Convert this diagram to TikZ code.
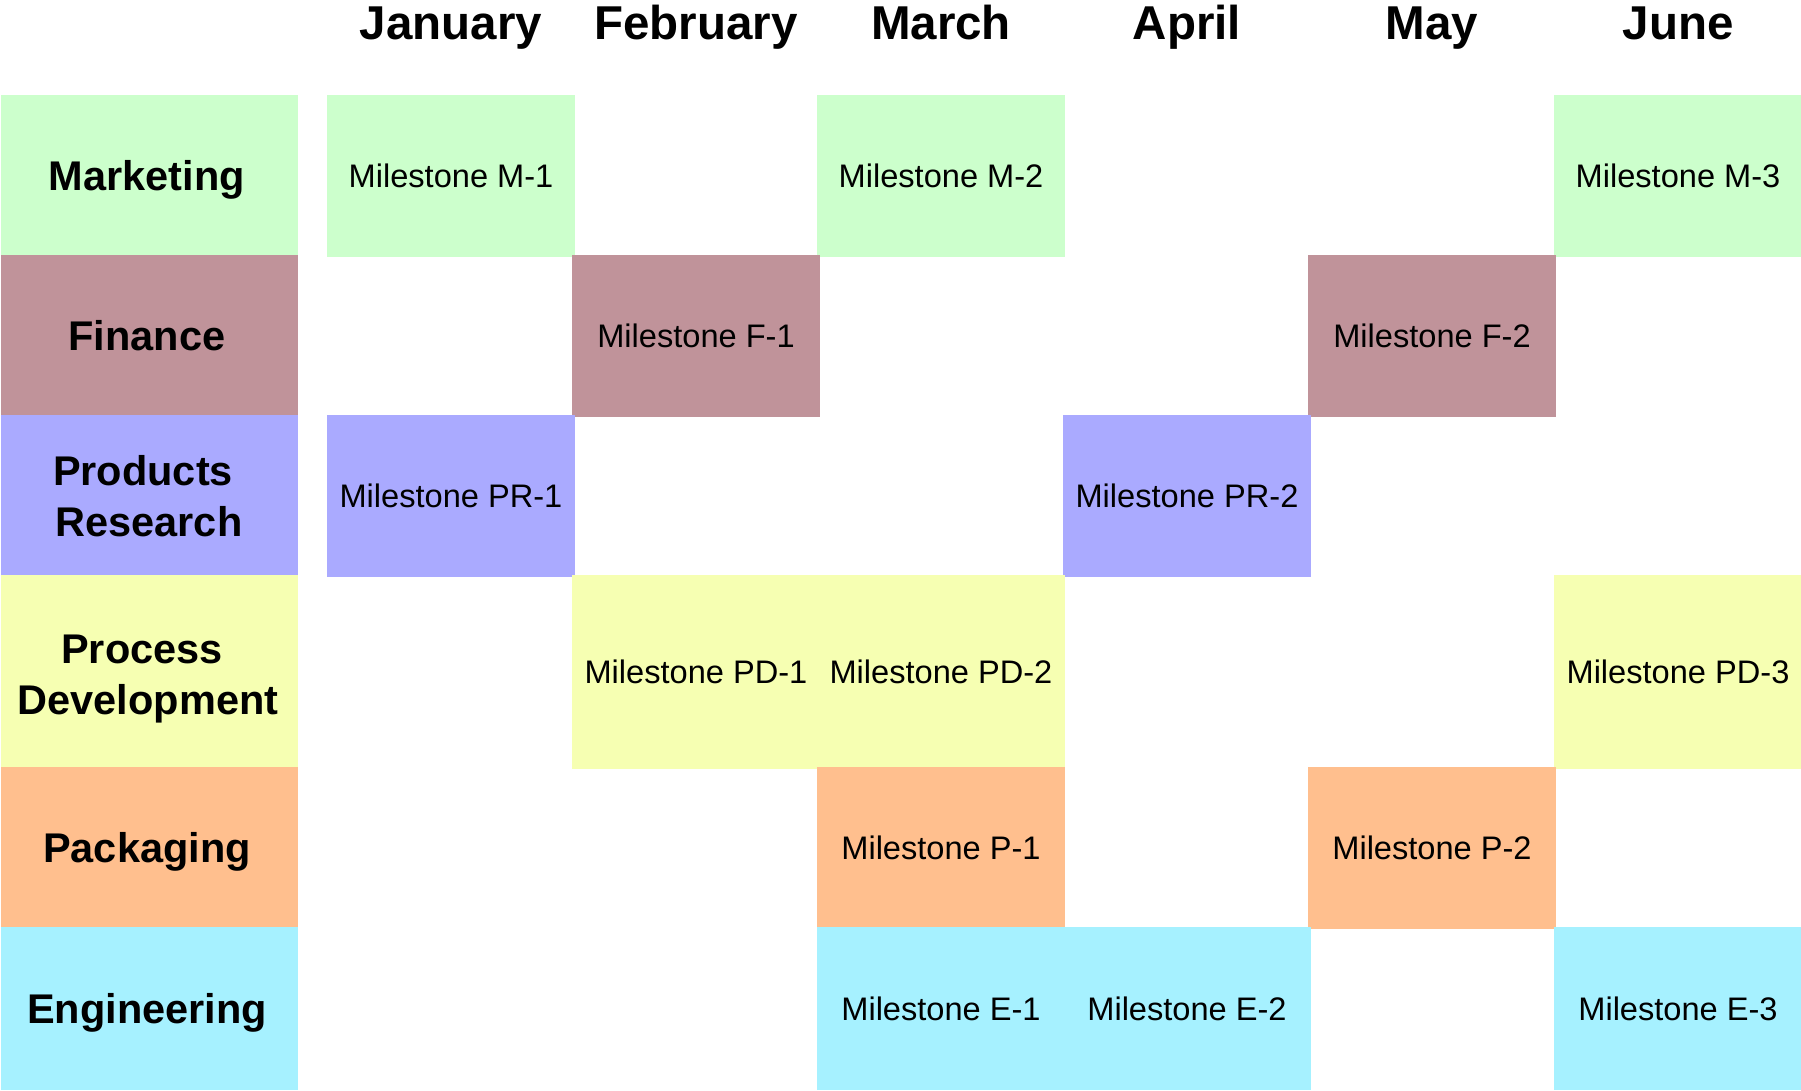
\documentclass[tikz,border=0pt]{standalone}
\usepackage{fontspec}
\setmainfont{Liberation Sans}
\definecolor{cMkt}{HTML}{CCFFCC}
\definecolor{cFin}{HTML}{C0939A}
\definecolor{cRes}{HTML}{AAAAFF}
\definecolor{cDev}{HTML}{F6FFB2}
\definecolor{cPkg}{HTML}{FFBF8E}
\definecolor{cEng}{HTML}{A6F1FF}
\tikzset{
  month/.style={anchor=base, inner sep=0pt, font=\fontsize{47.5}{57}\selectfont\bfseries},
  deptbox/.style={anchor=north west, inner sep=0pt, outer sep=0pt, minimum width=297pt},
  dept/.style={anchor=base, inner sep=0pt,
    font=\fontsize{41.5}{51}\selectfont\bfseries},
  ms/.style={anchor=north west, inner sep=0pt, outer sep=0pt, minimum width=248pt,
    font=\fontsize{32.6}{40}\selectfont, text height=23.4pt, text depth=0pt},
}
\begin{document}
\begin{tikzpicture}[x=1pt, y=-1pt]
\useasboundingbox[fill=white] (0,0) rectangle (1801,1090);

% month headings
\node[month] (hJan) at (451,39) {January};
\node[month] (hFeb) at (696,39) {February};
\node[month] (hMar) at (941,39) {March};
\node[month] (hApr) at (1187,39) {April};
\node[month] (hMay) at (1432,39) {May};
\node[month] (hJun) at (1678,39) {June};

% department column: coloured bands
\node[deptbox, fill=cMkt, minimum height=160pt] (dMkt) at (1,95) {};
\node[deptbox, fill=cFin, minimum height=160pt] (dFin) at (1,255) {};
\node[deptbox, fill=cRes, minimum height=160pt] (dRes) at (1,415) {};
\node[deptbox, fill=cDev, minimum height=192pt] (dDev) at (1,575) {};
\node[deptbox, fill=cPkg, minimum height=160pt] (dPkg) at (1,767) {};
\node[deptbox, fill=cEng, minimum height=163pt] (dEng) at (1,927) {};

% department names, set on their baselines
\node[dept] (tMkt) at (147,190) {Marketing};
\node[dept] (tFin) at (147,350) {Finance};
\node[dept] (tRes1) at (143,485) {Products};
\node[dept] (tRes2) at (149,536) {Research};
\node[dept] (tDev1) at (142,663) {Process};
\node[dept] (tDev2) at (148,714) {Development};
\node[dept] (tPkg) at (147,862) {Packaging};
\node[dept] (tEng) at (147,1023) {Engineering};

% Marketing
\node[ms, fill=cMkt, minimum height=162pt] (m1) at (327,95) {Milestone M-1};
\node[ms, fill=cMkt, minimum height=162pt] (m2) at (817,95) {Milestone M-2};
\node[ms, fill=cMkt, minimum height=162pt] (m3) at (1554,95) {Milestone M-3};
% Finance
\node[ms, fill=cFin, minimum height=162pt] (f1) at (572,255) {Milestone F-1};
\node[ms, fill=cFin, minimum height=162pt] (f2) at (1308,255) {Milestone F-2};
% Products Research
\node[ms, fill=cRes, minimum height=162pt] (pr1) at (327,415) {Milestone PR-1};
\node[ms, fill=cRes, minimum height=162pt] (pr2) at (1063,415) {Milestone PR-2};
% Process Development
\node[ms, fill=cDev, minimum height=194pt] (pd1) at (572,575) {Milestone PD-1};
\node[ms, fill=cDev, minimum height=194pt] (pd2) at (817,575) {Milestone PD-2};
\node[ms, fill=cDev, minimum height=194pt] (pd3) at (1554,575) {Milestone PD-3};
% Packaging
\node[ms, fill=cPkg, minimum height=162pt] (p1) at (817,767) {Milestone P-1};
\node[ms, fill=cPkg, minimum height=162pt] (p2) at (1308,767) {Milestone P-2};
% Engineering
\node[ms, fill=cEng, minimum height=163pt] (e1) at (817,927) {Milestone E-1};
\node[ms, fill=cEng, minimum height=163pt] (e2) at (1063,927) {Milestone E-2};
\node[ms, fill=cEng, minimum height=163pt] (e3) at (1554,927) {Milestone E-3};
\end{tikzpicture}
\end{document}
